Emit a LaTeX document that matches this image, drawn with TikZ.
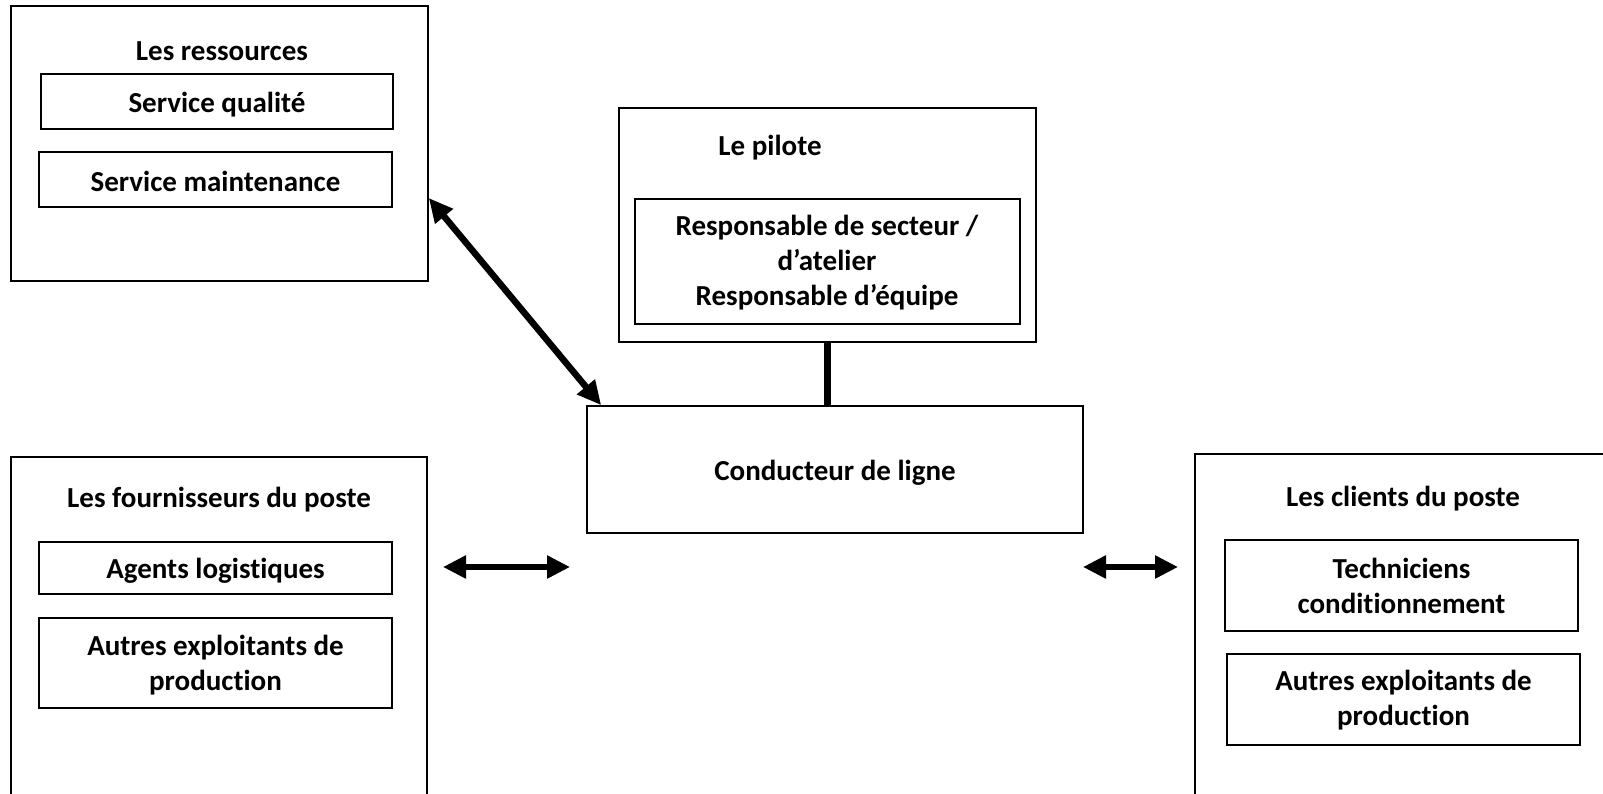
\documentclass[tikz,border=0pt]{standalone}
\usepackage{fontspec}
\setmainfont{Carlito}[Ligatures=NoCommon]
\usetikzlibrary{arrows.meta,calc}
\begin{document}
\begin{tikzpicture}[x=1pt,y=-1pt,
  box/.style={draw=black,line width=1.6pt,rectangle,inner sep=0pt},
  lbl/.style={inner sep=0pt,align=center,font=\fontsize{29pt}{35pt}\selectfont\bfseries},
  bigarrow/.style={line width=5.5pt,{Triangle[length=23pt,width=22pt]}-{Triangle[length=23pt,width=22pt]}},
  diagarrow/.style={line width=6.5pt,{Triangle[length=24pt,width=22pt]}-{Triangle[length=24pt,width=22pt]}},
  stem/.style={line width=7.5pt}]
\path[use as bounding box,clip] (0,0) rectangle (1603,794);
% boxes
\node[box,minimum width=417pt,minimum height=275pt] (ress) at (219.5,143.5) {};
\node[box,minimum width=352pt,minimum height=55pt] (sq) at (217,101.5) {};
\node[box,minimum width=353pt,minimum height=55pt] (sm) at (215.5,179.5) {};
\node[box,minimum width=417pt,minimum height=234pt] (pil) at (827.5,225) {};
\node[box,minimum width=385pt,minimum height=125pt] (resp) at (827.5,261.5) {};
\node[box,minimum width=496pt,minimum height=127pt] (cond) at (835,469.5) {};
\node[box,minimum width=416pt,minimum height=363pt] (four) at (219,638.5) {};
\node[box,minimum width=353pt,minimum height=52pt] (ag) at (215.5,568) {};
\node[box,minimum width=353pt,minimum height=90pt] (aua) at (215.5,663) {};
\node[box,minimum width=425pt,minimum height=366pt] (cli) at (1407.5,637) {};
\node[box,minimum width=353pt,minimum height=91pt] (tech) at (1401.5,585.5) {};
\node[box,minimum width=353pt,minimum height=91pt] (aub) at (1403.5,699.5) {};
% texts
\node[lbl] (tress) at (222,51) {Les ressources};
\node[lbl] (tsq) at ($(sq.center)+(0,3)$) {Service qualité};
\node[lbl] (tsm) at ($(sm.center)+(0,2)$) {Service maintenance};
\node[lbl] (tpil) at (770,148) {Le pilote};
\node[lbl] (tresp) at (827,263) {Responsable de secteur /\\d’atelier\\Responsable d’équipe};
\node[lbl] (tcond) at (835,473) {Conducteur de ligne};
\node[lbl] (tfour) at (219,500) {Les fournisseurs du poste};
\node[lbl] (tag) at ($(ag.center)+(0,3)$) {Agents logistiques};
\node[lbl] (taua) at ($(aua.center)+(0,2)$) {Autres exploitants de\\production};
\node[lbl] (tcli) at (1403,499) {Les clients du poste};
\node[lbl] (ttech) at ($(tech.center)+(0,0)$) {Techniciens\\conditionnement};
\node[lbl] (taub) at ($(aub.center)+(0,1)$) {Autres exploitants de\\production};
% connectors
\coordinate (la) at (443,567);
\coordinate (lb) at (570,567);
\coordinate (ra) at (1083,567);
\coordinate (rb) at (1178,567);
\draw[diagarrow] ($(ress.east)+(0,54.5)$) -- ($(cond.north west)+(15,0)$);
\draw[stem] (pil.south) -- (pil.south |- cond.north);
\draw[bigarrow] (la) -- (lb);
\draw[bigarrow] (ra) -- (rb);
\end{tikzpicture}
\end{document}
